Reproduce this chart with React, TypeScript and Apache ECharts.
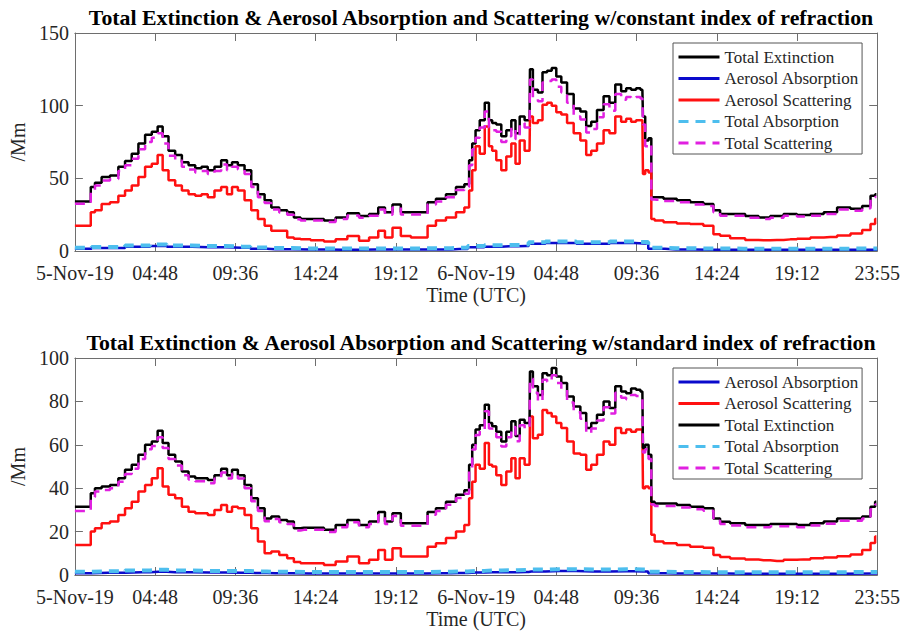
import React, { useEffect, useRef } from "react";
import * as echarts from "echarts";

const xLabels = ["5-Nov-19", "04:48", "09:36", "14:24", "19:12", "6-Nov-19", "04:48", "09:36", "14:24", "19:12", "23:55"];

// hours since 5-Nov-19 00:00 UTC
const T = [0, 0.9, 1.0, 1.4, 1.8, 2.4, 2.8, 3.2, 3.6, 4.0, 4.4, 4.8, 5.1, 5.4, 5.8, 6.2, 6.6, 7.0, 7.4, 7.75,
  8.15, 8.55, 8.95, 9.25, 9.55, 9.95, 10.35, 10.75, 11.15, 11.55, 11.95, 12.5, 12.9, 13.3, 13.7, 14.5, 15.3, 15.9, 16.7, 17.3,
  17.9, 18.4, 18.7, 19.3, 19.7, 20.5, 20.9, 21.3, 21.9, 22.5, 23.1, 23.5, 23.67, 23.87, 24.07, 24.37, 24.67, 24.87, 25.06, 25.36,
  25.66, 25.96, 26.26, 26.46, 26.76, 27.05, 27.2, 27.25, 27.55, 27.85, 28.1, 28.4, 28.65, 28.95, 29.25, 29.64, 30.04, 30.44, 30.74, 31.04,
  31.43, 31.83, 32.13, 32.53, 32.83, 33.13, 33.42, 33.72, 33.95, 34.02, 34.22, 34.42, 34.55, 34.82, 35.61, 36.41, 37.2, 38.0, 38.4, 38.8,
  39.6, 40.6, 41.2, 42.0, 42.8, 43.6, 44.4, 45.2, 46.0, 46.8, 47.4, 47.8, 47.95];

// top panel: constant index of refraction
const topExt = [34, 34, 44, 47, 51, 52, 58, 62, 67, 74, 80, 82, 85.6, 79, 69, 66, 61, 59, 57, 58,
  55.5, 58, 62.5, 59, 61, 59, 55.5, 46, 39, 35, 30, 28, 26.6, 23, 22, 22, 21, 23, 26, 24,
  25.5, 30, 26.6, 32, 26.6, 26.6, 26.6, 33.6, 36, 39, 44, 46, 62.5, 74, 83, 90, 102, 90, 88, 87,
  79, 83, 90, 81, 92.6, 90, 90, 125, 111, 109, 123, 124, 126, 120, 116, 108, 98, 96, 86, 89,
  97, 106.5, 102, 114.6, 110, 112, 111, 112, 111, 92.6, 76, 77.5, 37, 37, 36, 35, 33.6, 32.4, 28, 25.5,
  25.5, 24, 23, 24, 25.5, 24.8, 25.5, 26.6, 30, 29, 31, 38, 39];
const topScat = [32.5, 32.5, 42, 45, 48.5, 49.5, 55, 59, 63.5, 70, 75, 78, 81, 74, 65.5, 62.5, 58, 56, 54, 55,
  53, 55, 59.5, 55.5, 58, 56, 53, 44, 37, 33, 28.5, 26.5, 25, 21.8, 21, 21, 20, 22, 24.5, 22.8,
  24.2, 28.5, 25, 30, 25.2, 25.2, 25.2, 32, 34, 37, 42, 44, 59, 70, 78, 85, 96, 85, 83, 82,
  75, 79, 85, 77, 88, 85, 85, 118, 105, 103, 116, 117, 118, 113, 109, 102, 92.5, 90.5, 81.5, 84,
  92, 101, 96.5, 108, 104, 106, 105, 106, 105, 87, 72, 73.5, 35.5, 35.3, 34.4, 33.5, 32, 31, 26.7, 24.3,
  24.3, 22.9, 22, 22.9, 24.3, 23.7, 24.3, 25.4, 28.6, 27.7, 29.5, 36.2, 37.2];
const topAeroScat = [17.4, 17.4, 26.6, 28, 32.4, 33.6, 38, 41.7, 45, 51, 58, 60, 66, 55.5, 48.6, 45, 41.7, 39, 38, 39,
  37, 41.7, 44, 39, 44, 41.7, 35, 28, 22, 17.4, 14, 14, 9.3, 8.5, 8, 7.4, 6.5, 8, 10.4, 7,
  9.3, 14, 9.3, 16, 10.4, 9.3, 9.3, 17.4, 21, 23, 26.6, 30, 41.7, 55.5, 72, 67, 85.6, 72, 69, 62.5,
  55.5, 65, 74, 60, 76, 69, 69, 92.6, 88, 90, 100.7, 102, 100, 95.5, 94, 88, 81, 76, 66, 69,
  74, 83, 81, 92.6, 89, 91, 89, 90, 90, 53, 55.5, 54, 22, 21, 19.7, 19, 18.5, 17.4, 11.6, 10.5,
  8.7, 7.6, 7.4, 7.6, 8, 8.5, 9.3, 9.7, 10.6, 12, 14.5, 18.5, 22];

// bottom panel: standard index of refraction
const botExt = [31.5, 31.5, 37.7, 40, 40.8, 41.5, 44.6, 48.5, 50.8, 55.4, 60, 61.5, 66.5, 60.8, 55.4, 52.3, 47.7, 45.4, 44.6, 44.6,
  43.8, 46, 49, 46, 48.5, 46, 41.5, 35.4, 30.8, 26, 27, 25.4, 24.6, 21.5, 21.8, 21.8, 20.8, 23, 25.4, 23,
  24.6, 29, 24.6, 28.5, 23.8, 23.8, 23.8, 29, 30.8, 33.8, 37, 39, 50.8, 60, 67, 69, 78.5, 70, 68.5, 66,
  61.5, 66, 70.8, 64, 71.5, 70, 70, 93.8, 87, 83, 93, 92, 95.4, 91.5, 88.5, 82.3, 77.7, 74.6, 67.7, 70,
  73.8, 80, 77, 87, 84.6, 83.8, 86, 85.4, 84.6, 58.5, 60, 55.4, 33.8, 33, 33, 32.3, 31.5, 30.8, 26, 24.5,
  23.8, 23, 23, 23.5, 23.5, 23, 23.8, 24.6, 26, 26, 27, 31.5, 33.8];
const botScat = [29.5, 29.5, 36, 38.5, 39.2, 40, 43, 46.5, 49, 53.5, 58, 59.5, 63.5, 58.5, 53.5, 50.5, 46, 44, 43.2, 43.2,
  42.3, 44.5, 47.2, 44.5, 46.8, 44.5, 40, 34, 29.5, 24.8, 25.8, 24.3, 23.5, 20.5, 20.8, 20.8, 19.8, 22, 24.3, 22,
  23.5, 27.6, 23.5, 27.2, 22.7, 22.7, 22.7, 27.8, 29.5, 32.4, 35.5, 37.5, 48.8, 57.8, 64.5, 66.5, 75.5, 67.5, 66, 63.5,
  59.2, 63.5, 68.2, 61.6, 69, 67.5, 67.5, 90.5, 84, 80, 90, 89, 92, 88.5, 85.5, 79.5, 75, 72, 65.3, 67.5,
  71.2, 77.3, 74.4, 84, 81.7, 81, 83, 82.5, 81.7, 56.5, 58, 53.5, 32.5, 31.8, 31.8, 31.1, 30.3, 29.6, 25, 23.5,
  22.8, 22, 22, 22.5, 22.5, 22, 22.8, 23.6, 25, 25, 26, 30.3, 32.5];
const botAeroScat = [13.8, 13.8, 20, 21.5, 23.8, 24.6, 27.7, 30.8, 33.8, 38.5, 41.5, 44.6, 49.2, 40.8, 37, 35.4, 31.5, 29.2, 28.5, 28.5,
  27.7, 30, 32.3, 29.2, 31.5, 30.8, 27.7, 21.5, 15.4, 10, 10.8, 9.2, 7.7, 6, 5.4, 5.4, 4.6, 6.2, 8.5, 5.4,
  7, 11.5, 7, 12.3, 8.5, 8.5, 8.5, 13, 14.6, 17, 20, 23, 35.4, 43, 50.8, 49, 60.8, 50.8, 50, 46,
  41.5, 47.7, 53.8, 44.6, 53.8, 50.8, 50.8, 73, 63, 64.6, 76, 74.6, 73, 70, 67.7, 61.5, 56, 55.4, 48.5, 50.8,
  55.4, 61.5, 60, 67.7, 65.4, 67, 66, 67, 67, 40, 40.8, 40, 18.5, 15.4, 14.6, 13.8, 13, 12.6, 9.2, 8.3,
  7.6, 7.1, 6.8, 6.5, 7, 7.2, 7.7, 8.1, 8.6, 9.5, 11.5, 14.8, 17.7];

// absorption (coarser time base)
const absT = [0, 2, 4, 5, 6, 8, 10, 11, 12, 14, 16, 18, 20, 22, 23, 24, 25, 26, 27, 27.3, 29, 31, 33, 34, 34.6, 36, 38, 40, 44, 48];
const topAeroAbs = [1.5, 2, 3, 3.5, 3, 2.6, 2.2, 1.6, 1.2, 1, 0.9, 1, 1, 1.1, 1.3, 2.5, 3, 3.2, 3.5, 5, 5.5, 5, 5.5, 5.2, 1.5, 1.1, 0.9, 0.8, 0.8, 0.9];
const topTotAbs = [2.3, 2.8, 3.8, 4.4, 3.8, 3.4, 3, 2.4, 2, 1.8, 1.7, 1.8, 1.8, 1.9, 2.2, 3.4, 3.9, 4.1, 4.4, 6, 6.5, 6, 6.5, 6.2, 2.3, 1.9, 1.7, 1.6, 1.6, 1.7];
const botAeroAbs = [0.8, 1, 1.3, 1.5, 1.3, 1.1, 1, 0.9, 0.8, 0.7, 0.7, 0.7, 0.7, 0.8, 0.9, 1.1, 1.3, 1.3, 1.4, 1.6, 1.8, 1.6, 1.7, 1.6, 0.8, 0.7, 0.7, 0.6, 0.6, 0.7];
const botTotAbs = [1.5, 1.7, 2.1, 2.4, 2.1, 1.9, 1.8, 1.6, 1.5, 1.4, 1.4, 1.4, 1.4, 1.5, 1.6, 1.9, 2.1, 2.2, 2.3, 2.5, 2.7, 2.5, 2.6, 2.5, 1.5, 1.4, 1.3, 1.3, 1.3, 1.4];

const topLegend = ["Total Extinction", "Aerosol Absorption", "Aerosol Scattering", "Total Absorption", "Total Scattering"];
const botLegend = ["Aerosol Absorption", "Aerosol Scattering", "Total Extinction", "Total Absorption", "Total Scattering"];

const FONT = "Liberation Serif";
const AX = "#6e6e6e";
const TXT = "#262626";

const styles: Record<string, any> = {
  "Total Extinction": { color: "#000000", width: 2.5, type: "solid" },
  "Aerosol Absorption": { color: "#0a0acc", width: 2.5, type: "solid" },
  "Aerosol Scattering": { color: "#ff1010", width: 2.5, type: "solid" },
  "Total Absorption": { color: "#4dbeee", width: 4, type: [10, 7] },
  "Total Scattering": { color: "#e020e0", width: 2.5, type: [10, 7] },
};

function pairs(t: number[], v: number[]) {
  return t.map((x, i) => [x, v[i]]);
}

function mkSeries(name: string, data: number[][], gi: number) {
  const s = styles[name];
  return {
    type: "line",
    name,
    data,
    xAxisIndex: gi * 2,
    yAxisIndex: gi * 2,
    step: "middle",
    symbol: "none",
    showSymbol: false,
    color: s.color,
    lineStyle: { color: s.color, width: s.width, type: s.type },
    itemStyle: { color: s.color },
    emphasis: { disabled: true },
  };
}

function xAxes(gi: number) {
  const tick = { show: true, inside: true, length: 8, lineStyle: { color: AX } };
  return [
    {
      type: "value", gridIndex: gi, position: "bottom", min: 0, max: 48, interval: 4.8,
      axisLine: { show: true, onZero: false, lineStyle: { color: AX, width: 1 } },
      axisTick: tick, splitLine: { show: false },
      axisLabel: {
        show: true, margin: 12, color: TXT, fontFamily: FONT, fontSize: 20, lineHeight: 20,
        formatter: (v: number) => xLabels[Math.round(v / 4.8)] ?? "",
        showMinLabel: true, showMaxLabel: true,
      },
      name: "Time (UTC)", nameLocation: "middle", nameGap: 34,
      nameTextStyle: { color: TXT, fontFamily: FONT, fontSize: 20 },
    },
    {
      type: "value", gridIndex: gi, position: "top", min: 0, max: 48, interval: 4.8,
      axisLine: { show: true, onZero: false, lineStyle: { color: AX, width: 1 } },
      axisTick: tick, splitLine: { show: false }, axisLabel: { show: false },
    },
  ];
}

function yAxes(gi: number, max: number, interval: number) {
  const tick = { show: true, inside: true, length: 8, lineStyle: { color: AX } };
  return [
    {
      type: "value", gridIndex: gi, position: "left", min: 0, max, interval,
      axisLine: { show: true, onZero: false, lineStyle: { color: AX, width: 1 } },
      axisTick: tick, splitLine: { show: false },
      axisLabel: { show: true, margin: 6, color: TXT, fontFamily: FONT, fontSize: 20, lineHeight: 17 },
      name: "/Mm", nameLocation: "middle", nameGap: 29, nameRotate: 90,
      nameTextStyle: { color: TXT, fontFamily: FONT, fontSize: 20 },
    },
    {
      type: "value", gridIndex: gi, position: "right", min: 0, max, interval,
      axisLine: { show: true, onZero: false, lineStyle: { color: AX, width: 1 } },
      axisTick: tick, splitLine: { show: false }, axisLabel: { show: false },
    },
  ];
}

function legend(data: string[], top: number) {
  return {
    data,
    orient: "vertical",
    left: 673,
    top,
    itemWidth: 41,
    itemHeight: 18,
    itemGap: 3.5,
    padding: [5, 3, 2, 4],
    backgroundColor: "#ffffff",
    borderColor: "#555555",
    borderWidth: 1,
    borderRadius: 0,
    selectedMode: false,
    itemStyle: { opacity: 0, borderWidth: 0 },
    lineStyle: { width: 3 },
    textStyle: { fontFamily: FONT, fontSize: 17, color: TXT, lineHeight: 18, padding: [0, 0, 0, 0] },
  };
}

export default function App() {
  const ref = useRef<HTMLDivElement>(null);
  useEffect(() => {
    if (!ref.current) return;
    const chart = echarts.init(ref.current, undefined, { renderer: "svg" });
    const option: any = {
      animation: false,
      backgroundColor: "#ffffff",
      title: [
        {
          text: "Total Extinction & Aerosol Absorption and Scattering w/constant index of refraction",
          left: 476, top: 2, textAlign: "center",
          textStyle: { fontFamily: FONT, fontWeight: "bold", fontSize: 21.8, color: "#000" },
        },
        {
          text: "Total Extinction & Aerosol Absorption and Scattering w/standard index of refraction",
          left: 476, top: 327, textAlign: "center",
          textStyle: { fontFamily: FONT, fontWeight: "bold", fontSize: 21.8, color: "#000" },
        },
      ],
      legend: [legend(topLegend, 43), legend(botLegend, 368)],
      grid: [
        { left: 73.5, top: 33, width: 804, height: 218, containLabel: false },
        { left: 73.5, top: 358, width: 804, height: 217, containLabel: false },
      ],
      xAxis: [...xAxes(0), ...xAxes(1)],
      yAxis: [...yAxes(0, 150, 50), ...yAxes(1, 100, 20)],
      series: [
        mkSeries("Total Extinction", pairs(T, topExt), 0),
        mkSeries("Aerosol Absorption", pairs(absT, topAeroAbs), 0),
        mkSeries("Aerosol Scattering", pairs(T, topAeroScat), 0),
        mkSeries("Total Absorption", pairs(absT, topTotAbs), 0),
        mkSeries("Total Scattering", pairs(T, topScat), 0),
        mkSeries("Aerosol Absorption", pairs(absT, botAeroAbs), 1),
        mkSeries("Aerosol Scattering", pairs(T, botAeroScat), 1),
        mkSeries("Total Extinction", pairs(T, botExt), 1),
        mkSeries("Total Absorption", pairs(absT, botTotAbs), 1),
        mkSeries("Total Scattering", pairs(T, botScat), 1),
      ],
    };
    chart.setOption(option);
    return () => chart.dispose();
  }, []);
  return (
    <div
      ref={ref}
      style={{ position: "fixed", left: 0, top: 0, width: 903, height: 633, background: "#fff" }}
    />
  );
}
